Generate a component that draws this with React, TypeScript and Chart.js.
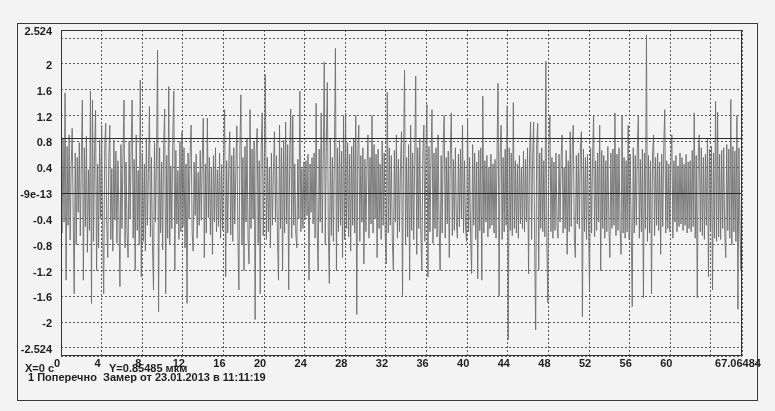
import React, { useEffect, useRef } from "react";
import { Chart, registerables } from "chart.js";

Chart.register(...registerables);

// Signal samples (мкм) in 17 consecutive chunks
const s00 = [0.3,-0.62,0.85,-0.45,1.55,-1.35,0.72,-0.5,0.9,-0.73,0.4,1.0,-0.35,-1.56,0.62,-0.8,0.55,-0.3,0.78,-0.66,0.48,1.44,-1.35,0.7,-0.52,0.88,-0.92,0.36,-0.58,1.58,-1.71,1.44,-0.75,0.6,1.28,-1.2,0.45,-0.85,0.82,-0.4];
const s01 = [1.05,-0.6,-1.56,0.7,1.08,-0.48,-1.0,0.55,1.05,-0.72,0.38,-0.9,0.82,-0.42,0.65,-0.78,0.5,-0.3,-1.45,0.75,-0.55,0.6,1.44,-0.85,0.48,-0.62,-1.0,0.8,-0.4,0.68,1.44,-0.7,0.52,-1.2,0.9,-0.58,0.35,-0.8,1.75,-1.3];
const s02 = [0.62,-0.75,0.45,-0.9,0.85,-0.5,0.3,1.34,-0.68,0.55,-0.82,-1.5,0.78,-0.45,0.6,2.21,-1.84,0.7,-0.62,0.48,-0.88,0.75,1.3,-1.56,0.58,-0.7,1.65,-0.8,0.42,-0.55,0.9,1.58,-1.2,0.66,-0.48,0.35,-0.72,0.8,-0.6,0.95];
const s03 = [-0.52,0.7,-0.85,0.45,-1.71,0.62,-0.4,0.55,1.05,-0.6,-0.9,0.48,-0.35,0.6,-0.7,0.32,-0.5,0.66,-0.42,0.5,1.16,-1.0,0.45,-0.62,1.16,-0.38,0.55,-0.65,0.4,-0.95,0.58,-0.45,0.7,-0.6,0.36,-0.52,0.62,-0.7,0.44,-0.58];
const s04 = [0.6,1.29,-1.3,0.5,-0.62,0.4,0.95,-0.65,0.58,-0.75,0.7,-0.48,0.35,1.04,-0.6,-1.5,0.66,1.52,-0.8,0.55,-1.2,0.72,-0.45,0.85,-0.7,-1.1,1.29,-0.55,0.68,-0.4,0.8,-1.96,0.62,1.0,-0.78,0.5,-1.56,0.72,1.24,-0.66];
const s05 = [0.48,1.83,-0.72,0.55,-0.6,0.4,-0.85,0.62,-0.5,0.35,0.95,-0.45,0.58,-0.68,-1.35,1.05,-0.55,0.7,-1.2,0.82,-0.62,1.1,-0.48,0.75,-1.5,0.6,1.3,-0.7,1.2,-0.5,0.45,-0.62,-0.85,0.52,-0.4,1.58,-0.6,0.38,-0.55,0.48];
const s06 = [-0.42,0.5,-0.35,0.6,-1.35,0.45,-0.3,0.55,-0.48,0.62,-0.7,1.39,-0.55,-1.2,0.68,-0.45,1.24,-0.62,0.5,2.03,-0.8,0.72,1.71,-0.58,-1.4,0.85,-0.66,0.55,-0.75,0.62,2.24,-1.2,0.7,-0.6,0.82,-0.5,0.65,-1.0,1.2,-0.72];
const s07 = [1.24,-0.55,0.78,-0.68,0.6,-0.9,0.72,-0.5,0.85,-0.62,1.2,-1.88,0.66,1.05,-0.75,0.58,-0.45,0.7,-1.1,0.52,-0.6,0.4,0.9,-0.7,0.55,-0.48,1.2,-0.62,0.75,-0.4,0.6,-1.0,0.68,-0.55,0.45,-0.72,0.8,-0.5,0.62,-0.66];
const s08 = [-1.1,1.56,-0.62,0.7,-0.5,0.58,-0.75,-1.2,0.66,-0.45,0.9,-0.7,0.52,-0.6,0.4,0.95,-1.59,0.6,1.9,-0.8,0.55,-0.68,0.75,-1.35,1.05,-0.58,0.62,-0.72,0.5,1.81,-0.95,0.7,-0.55,0.85,-0.62,-1.2,0.6,1.05,-0.75,0.68];
const s09 = [1.37,-1.3,0.72,-0.6,0.5,1.29,-0.78,0.62,-0.55,0.7,-0.68,0.9,-0.5,-1.2,0.58,-0.62,0.75,1.2,-0.7,0.55,-0.48,0.65,-1.0,0.6,1.24,-0.66,0.52,-0.58,0.7,-0.45,-0.7,0.6,-0.52,0.68,-0.4,1.05,-0.62,0.5,-0.55,-0.75];
const s10 = [1.16,-0.6,0.55,-0.7,-1.25,0.75,-0.5,0.62,-0.72,0.48,-1.33,0.66,-0.58,0.7,-1.35,1.5,-0.62,0.5,-0.45,0.58,-0.68,0.4,-0.55,0.6,-0.5,0.45,-0.62,0.52,-0.7,0.65,1.7,-1.6,0.6,1.05,-0.72,0.55,-0.6,0.68,-0.5,1.35];
const s11 = [-2.27,0.7,-0.58,0.62,-0.66,1.4,-0.55,0.5,-0.62,0.45,-0.7,0.58,-0.48,0.4,-0.55,0.65,-0.6,0.52,-0.45,0.7,-1.25,0.6,1.1,-0.72,0.55,1.1,-0.8,-2.12,0.75,1.08,-1.2,0.62,-0.55,0.7,-0.6,0.5,-0.68,2.04,-0.82,-1.7];
const s12 = [0.72,1.2,-0.6,0.55,-0.7,0.48,-0.58,0.62,-0.5,-0.7,0.6,-0.45,0.52,0.9,-0.62,0.4,-0.55,0.66,-0.95,0.5,-0.6,0.95,-0.52,0.7,1.05,-0.68,-1.0,0.58,-0.48,0.62,-0.55,0.7,0.95,-1.92,0.68,-0.6,0.55,-0.72,0.6,-0.5];
const s13 = [-1.5,0.7,-0.62,0.55,1.2,-0.68,0.5,-0.58,0.62,-0.45,1.05,-1.2,0.66,-0.55,0.58,-0.7,0.5,-0.6,0.72,-0.48,-1.0,0.62,-0.55,0.68,-0.5,1.24,-0.66,0.6,-0.58,0.7,-0.52,-0.95,1.2,-0.62,0.55,-0.7,0.5,-0.6,1.05,-0.72];
const s14 = [0.6,-0.55,-1.76,0.7,-0.62,0.58,-0.5,0.66,1.2,-0.7,0.52,-0.6,0.68,-1.62,0.62,-0.55,2.45,-0.75,0.58,-0.62,0.5,-1.56,0.6,0.9,-0.66,0.55,-0.5,0.62,-0.58,0.48,-0.95,0.6,-0.52,0.7,1.29,-0.62,0.5,-0.55,0.45,-0.6];
const s15 = [0.55,0.9,-0.7,0.5,-0.45,0.58,-0.6,0.42,-0.52,0.62,-0.48,0.55,-0.58,0.45,-0.5,0.6,-0.62,0.48,-0.55,0.5,-0.6,0.66,-0.52,1.24,-0.7,0.58,-1.62,0.62,0.9,-0.6,0.7,-0.66,0.55,-0.72,0.6,-0.5,0.85,-1.3,0.68,-0.6];
const s16 = [0.72,-1.5,0.62,-0.7,1.42,-0.75,1.25,-0.68,0.6,-0.72,0.66,-0.55,0.7,-0.62,-1.0,0.75,-0.58,0.68,-0.7,1.45,-0.8,0.72,-0.6,0.65,-0.75,1.2,-1.8,0.7,-0.62,-1.2,1.05];

const signal = [...s00, ...s01, ...s02, ...s03, ...s04, ...s05, ...s06, ...s07, ...s08, ...s09, ...s10, ...s11, ...s12, ...s13, ...s14, ...s15, ...s16];

const T_END = 67.06484;
const Y_LIM = 2.524;
const xTickValues = [0, 4, 8, 12, 16, 20, 24, 28, 32, 36, 40, 44, 48, 52, 56, 60, 64, 67.06484];
const xTickLabels = ["0", "4", "8", "12", "16", "20", "24", "28", "32", "36", "40", "44", "48", "52", "56", "60", "", "67.06484"];
const yTickValues = [-2.524, -2.4, -2, -1.6, -1.2, -0.8, -0.4, 0, 0.4, 0.8, 1.2, 1.6, 2, 2.4, 2.524];
// as in the original, the bottom limit's label sits just above the frame, level with the -2.4 grid line
const yTickLabels = ["", "-2.524", "-2", "-1.6", "-1.2", "-0.8", "-0.4", "-9e-13", "0.4", "0.8", "1.2", "1.6", "2", "", "2.524"];
const refLines = [0, 0.85485];

const FONT = "'Liberation Sans', Arial, sans-serif";
const BG = "#f3f3f3";

const framePlugin = {
  id: "frame",
  afterDatasetsDraw(chart: any) {
    const { ctx, chartArea: a, scales } = chart;
    const y = scales.y;
    ctx.save();
    ctx.setLineDash([]);
    ctx.strokeStyle = "#2a2a2a";
    ctx.lineWidth = 1;
    for (const v of refLines) {
      const py = Math.round(y.getPixelForValue(v)) + 0.5;
      ctx.beginPath();
      ctx.moveTo(a.left, py);
      ctx.lineTo(a.right, py);
      ctx.stroke();
    }
    ctx.strokeStyle = "#333";
    ctx.strokeRect(Math.round(a.left) + 0.5, Math.round(a.top) + 0.5, Math.round(a.right - a.left) - 1, Math.round(a.bottom - a.top) - 1);
    ctx.restore();
  },
};

export default function App() {
  const ref = useRef<HTMLCanvasElement | null>(null);

  useEffect(() => {
    if (!ref.current) return;
    const n = signal.length;
    const points = signal.map((v, i) => ({ x: (i * T_END) / (n - 1), y: v }));
    const tickFont = { family: FONT, size: 11, weight: "bold" as const };
    const chart = new Chart(ref.current, {
      type: "line",
      data: {
        datasets: [
          {
            data: points,
            borderColor: "#6e6e6e",
            borderWidth: 0.9,
            pointRadius: 0,
            tension: 0,
            fill: false,
          },
        ],
      },
      options: {
        animation: false,
        responsive: false,
        devicePixelRatio: 1,
        parsing: false as any,
        normalized: true,
        events: [],
        layout: { padding: { left: 0, top: 30, right: 33, bottom: 40 } },
        plugins: { legend: { display: false }, tooltip: { enabled: false }, title: { display: false } },
        scales: {
          x: {
            type: "linear",
            min: 0,
            max: T_END,
            afterBuildTicks: (s: any) => {
              s.ticks = xTickValues.map((v) => ({ value: v }));
            },
            afterFit: (s: any) => {
              s.height = 15;
            },
            ticks: {
              autoSkip: false,
              maxRotation: 0,
              minRotation: 0,
              padding: 1,
              labelOffset: -4,
              color: "#1e1e1e",
              font: tickFont,
              callback: (_v: any, i: number) => xTickLabels[i],
            },
            grid: { color: "#5a5a5a", lineWidth: 1, drawTicks: false },
            border: { display: false, dash: [2, 2] },
          },
          y: {
            type: "linear",
            min: -Y_LIM,
            max: Y_LIM,
            afterBuildTicks: (s: any) => {
              s.ticks = yTickValues.map((v) => ({ value: v }));
            },
            afterFit: (s: any) => {
              s.width = 61;
            },
            ticks: {
              autoSkip: false,
              padding: 9,
              labelOffset: 2,
              color: "#1e1e1e",
              font: tickFont,
              callback: (_v: any, i: number) => yTickLabels[i],
            },
            grid: { color: "#5a5a5a", lineWidth: 1, drawTicks: false },
            border: { display: false, dash: [2, 2] },
          },
        },
      },
      plugins: [framePlugin],
    });
    return () => chart.destroy();
  }, []);

  const txt: React.CSSProperties = {
    position: "absolute",
    fontFamily: FONT,
    fontWeight: "bold",
    fontSize: 11,
    lineHeight: "12px",
    color: "#1e1e1e",
    whiteSpace: "pre",
  };

  return (
    <div style={{ position: "fixed", left: 0, top: 0, width: 775, height: 411, background: BG, overflow: "hidden" }}>
      <div style={{ position: "absolute", left: 17, top: 23, width: 739, height: 376, border: "1px solid #3a3a3a" }} />
      <canvas ref={ref} width={775} height={411} style={{ position: "absolute", left: 0, top: 0, width: 775, height: 411 }} />
      <div style={{ ...txt, left: 25, top: 362 }}>X=0 c</div>
      <div style={{ ...txt, left: 109, top: 362 }}>Y=0.85485 мкм</div>
      <div style={{ ...txt, left: 28, top: 371 }}>1 Поперечно  Замер от 23.01.2013 в 11:11:19</div>
    </div>
  );
}
